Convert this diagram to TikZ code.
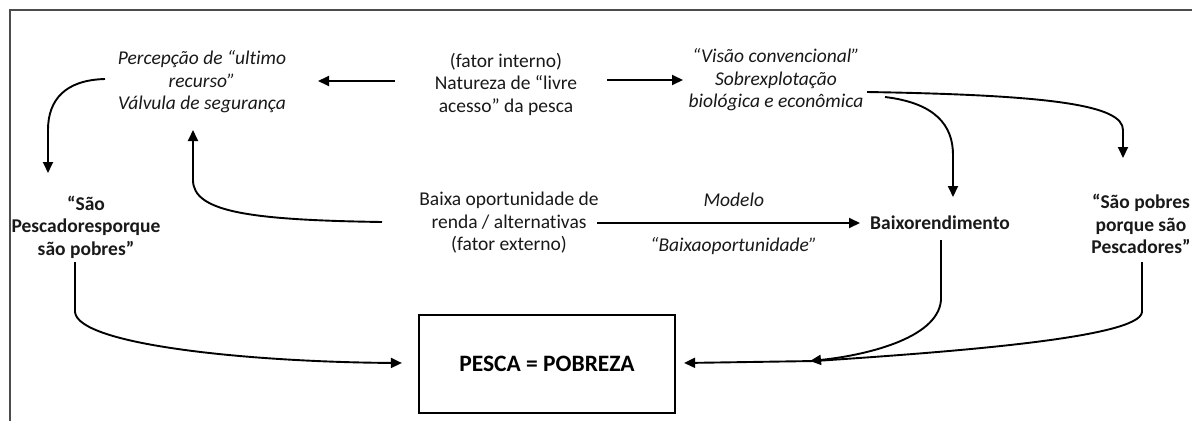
\documentclass[tikz,border=0pt]{standalone}
\usepackage{fontspec}
\setmainfont[Ligatures=NoCommon]{Carlito}
\usetikzlibrary{arrows.meta,calc}
\begin{document}
\begin{tikzpicture}[x=1pt,y=-1pt,
  txt/.style={align=center,inner sep=0pt,text=black!90,font=\fontsize{19.5}{22.5}\selectfont},
  itx/.style={txt,font=\fontsize{19.5}{22.5}\selectfont\itshape},
  btx/.style={txt,font=\fontsize{19.5}{22.5}\selectfont\bfseries},
  conn/.style={line width=1.9pt,draw=black},
  arr/.style={conn,-{Triangle[length=11pt,width=10pt]}},
  frame/.style={line width=2pt,draw=black!70}]
\useasboundingbox (0,0) rectangle (1192,421);
\fill[white] (0,0) rectangle (1192,421);
\draw[frame] (10,421) -- (10,10) -- (1192,10);

\node[itx] (perc) at (202,82) {Percepção de “ultimo\\recurso”\\Válvula de segurança};
\node[txt] (mid1) at (506,84) {(fator interno)\\Natureza de “livre\\acesso” da pesca};
\node[itx] (conv) at (776,80) {“Visão convencional”\\Sobrexplotação\\biológica e econômica};
\node[btx] (sao1) at (86,227) {“São\\Pescadoresporque\\são pobres”};
\node[txt] (base) at (509,223) {Baixa oportunidade de\\renda / alternativas\\(fator externo)};
\node[btx] (brend) at (940,223) {Baixorendimento};
\node[btx] (saopob) at (1141,224) {“São pobres\\porque são\\Pescadores”};
\node[draw,line width=2.2pt,minimum width=256pt,minimum height=98pt,inner sep=0pt,
  font=\fontsize{23.5}{26}\selectfont\bfseries] (box) at (547,364) {PESCA = POBREZA};

\draw[arr] ($(mid1)+(-111,-3)$) -- ($(perc)+(116,-1)$);
\draw[arr] ($(mid1)+(101,-4)$) -- ($(conv)+(-93,0)$);
\draw[arr] ($(perc)+(-97,-3)$) .. controls (65,80) and (48,100) .. (48,130) -- ($(sao1)+(-38,-54)$);
\draw[arr] ($(base)+(-127,-1)$) .. controls (250,220) and (193,212) .. (193,180) -- ($(perc)+(-9,48)$);
\draw[arr] ($(base)+(88,0)$) -- node[itx,pos=0.52,yshift=23pt] (lmod) {Modelo}
  node[itx,pos=0.52,yshift=-23pt] (lbo) {“Baixaoportunidade”} ($(brend)+(-80,0)$);
\draw[arr] ($(conv)+(109,17)$) .. controls (935,103) and (953,125) .. (953,155) -- ($(brend)+(13,-26)$);
\draw[arr] ($(conv)+(91,12)$) .. controls (1050,95) and (1123,105) .. (1123,130) -- ($(saopob)+(-18,-66)$);
\draw[arr] ($(sao1)+(-11,35)$) -- (75,312) .. controls (78,345) and (250,362) .. ($(box.west)+(-16,-1)$);
\draw[arr] ($(brend)+(1,17)$) -- (941,300) .. controls (938,340) and (860,356) .. (810,361);
\draw[arr] ($(saopob)+(1,38)$) -- (1142,312) .. controls (1140,338) and (950,352) .. (815,361) -- ($(box.east)+(8,-1)$);
\end{tikzpicture}
\end{document}
